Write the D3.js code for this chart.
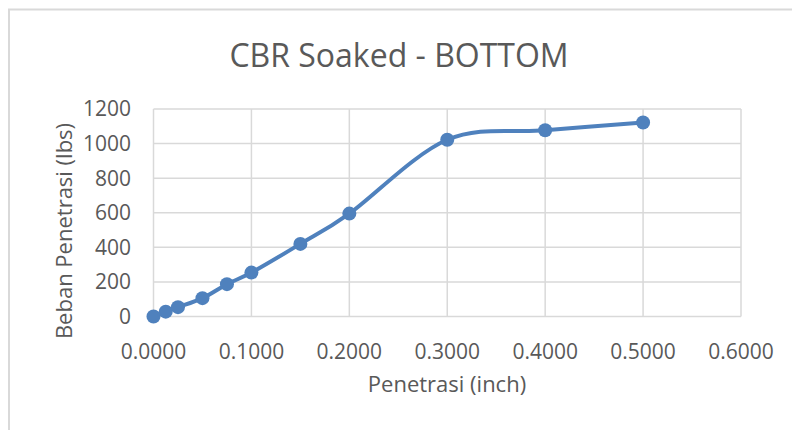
<!DOCTYPE html>
<html>
<head>
<meta charset="utf-8">
<script src="https://cdn.jsdelivr.net/npm/d3@7"></script>
<style>
  body { margin: 0; background: #fff; }
  svg text { font-family: "Open Sans", sans-serif; fill: #595959; }
</style>
</head>
<body>
<svg id="chart" width="792" height="430"></svg>
<script>
// data
const penetrasi = [0, 0.0125, 0.025, 0.05, 0.075, 0.1, 0.15, 0.2, 0.3, 0.4, 0.5];
const beban = [0, 28, 54, 106, 187, 254, 420, 595, 1022, 1077, 1122];
const xTicks = [0, 0.1, 0.2, 0.3, 0.4, 0.5, 0.6];
const yTicks = [0, 200, 400, 600, 800, 1000, 1200];

const points = penetrasi.map((p, i) => ({x: p, y: beban[i]}));

const svg = d3.select("#chart");
const lineBlue = "#4f81bd";
const gridGrey = "#d9d9d9";

// chart border (only top/left visible in the frame)
svg.append("rect")
    .attr("x", 9).attr("y", 9.5)
    .attr("width", 820).attr("height", 460)
    .attr("fill", "none").attr("stroke", gridGrey).attr("stroke-width", 2);

const x = d3.scaleLinear().domain([0, 0.6]).range([153.5, 741]);
const y = d3.scaleLinear().domain([0, 1200]).range([316.5, 109]);

// gridlines
svg.append("g").selectAll("line.h")
    .data(yTicks).enter().append("line")
    .attr("x1", x(0)).attr("x2", x(0.6))
    .attr("y1", d => y(d)).attr("y2", d => y(d))
    .attr("stroke", gridGrey).attr("stroke-width", 1.5);

svg.append("g").selectAll("line.v")
    .data(xTicks).enter().append("line")
    .attr("x1", d => x(d)).attr("x2", d => x(d))
    .attr("y1", y(0)).attr("y2", y(1200))
    .attr("stroke", gridGrey).attr("stroke-width", 1.5);

// tick labels
svg.append("g").selectAll("text")
    .data(yTicks).enter().append("text")
    .attr("x", 131).attr("y", d => y(d))
    .attr("dy", "0.35em")
    .attr("text-anchor", "end")
    .style("font-size", "21px")
    .text(d => d);

svg.append("g").selectAll("text")
    .data(xTicks).enter().append("text")
    .attr("x", d => x(d)).attr("y", 359)
    .attr("text-anchor", "middle")
    .style("font-size", "21px")
    .text(d => d3.format(".4f")(d));

// titles
svg.append("text")
    .attr("x", 399).attr("y", 67)
    .attr("text-anchor", "middle")
    .style("font-size", "32px")
    .text("CBR Soaked - BOTTOM");

svg.append("text")
    .attr("x", 447).attr("y", 392)
    .attr("text-anchor", "middle")
    .style("font-size", "22px")
    .text("Penetrasi (inch)");

svg.append("text")
    .attr("transform", "translate(72,231) rotate(-90)")
    .attr("text-anchor", "middle")
    .style("font-size", "22px")
    .text("Beban Penetrasi (lbs)");

// smoothed series line
const line = d3.line()
    .x(d => x(d.x)).y(d => y(d.y))
    .curve(d3.curveCatmullRom.alpha(0));

svg.append("path")
    .datum(points)
    .attr("d", line)
    .attr("fill", "none")
    .attr("stroke", lineBlue)
    .attr("stroke-width", 4)
    .attr("stroke-linecap", "round");

svg.append("g").selectAll("circle")
    .data(points).enter().append("circle")
    .attr("cx", d => x(d.x)).attr("cy", d => y(d.y))
    .attr("r", 7)
    .attr("fill", lineBlue);
</script>
</body>
</html>
